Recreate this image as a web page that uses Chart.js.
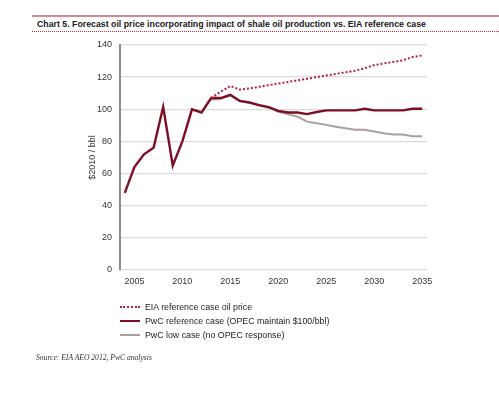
<!DOCTYPE html>
<html>
<head>
<meta charset="utf-8">
<script src="https://cdn.jsdelivr.net/npm/chart.js@4/dist/chart.umd.min.js"></script>
<style>
  html, body { margin: 0; padding: 0; background: #fff; }
  body { width: 499px; height: 395px; position: relative; overflow: hidden; font-family: "Liberation Sans", Arial, sans-serif; }
  #c { position: absolute; left: 0; top: 0; }
  #topline { position: absolute; left: 32px; width: 467px; top: 15px; height: 2px; background: #d98891; }
  #title { position: absolute; left: 37px; top: 19px; font-weight: bold; font-size: 8.6px; color: #1a1a1a; white-space: nowrap; }
  #dotline { position: absolute; left: 32px; right: 0; top: 31px; height: 0; border-top: 1.5px dotted #c0304a; }
  #legend { position: absolute; left: 120px; top: 300px; font-size: 8.8px; color: #222; }
  .row { height: 14px; line-height: 14px; white-space: nowrap; position: relative; }
  .sw { display: inline-block; width: 20px; vertical-align: middle; margin-right: 5px; position: relative; top: -1px; }
  #source { position: absolute; left: 36px; top: 353px; font-family: "Liberation Serif", "DejaVu Serif", serif; font-style: italic; font-size: 7.6px; color: #333; white-space: nowrap; }
</style>
</head>
<body>
<div id="topline"></div>
<div id="title">Chart 5. Forecast oil price incorporating impact of shale oil production vs. EIA reference case</div>
<div id="dotline"></div>
<canvas id="c" width="499" height="395"></canvas>
<div id="legend"></div>
<div id="source">Source: EIA AEO 2012, PwC analysis</div>
<script>
// ---- data ----
const years = [2004,2005,2006,2007,2008,2009,2010,2011,2012,2013,2014,2015,2016,2017,2018,2019,2020,2021,2022,2023,2024,2025,2026,2027,2028,2029,2030,2031,2032,2033,2034,2035];
const eiaRef = [null,null,null,null,null,null,null,null,null,107,111,114.5,112.2,113,114,115,116,117,118,119,120,121,122,123,124,125.5,127.5,128.5,129.5,130.5,132.5,133.5];
const pwcRef = [48,64,72,76,101.5,65,80,100,98,107,107,109,105.2,104.2,102.6,101.3,99,98,98,97,98.3,99.3,99.3,99.3,99.3,100.3,99.3,99.3,99.3,99.3,100.3,100.3];
const pwcLow = [null,null,null,null,null,null,null,null,null,106,106.5,108.5,105,104,102.5,101,98.5,97,95.4,92.3,91.3,90.3,89.2,88.2,87.2,87.2,86.2,85.1,84.3,84.3,83.3,83.3];
const xTicks = [2005,2010,2015,2020,2025,2030,2035];
const yTicks = [0,20,40,60,80,100,120,140];
const seriesNames = ["EIA reference case oil price", "PwC reference case (OPEC maintain $100/bbl)", "PwC low case (no OPEC response)"];
const yTitle = "$2010 / bbl";

// ---- fit title width ----
(function(){
  const t = document.getElementById('title');
  const w = t.getBoundingClientRect().width;
  t.style.fontSize = (8.6 * 389 / w) + 'px';
})();

const colors = ["#b3203d", "#7d0f25", "#ab9f9c"];
const toPts = arr => years.map((y,i)=>({x:y, y:arr[i]})).filter(p=>p.y!==null);
const tickFont = { family: 'Liberation Sans', size: 9 };

const ctx = document.getElementById('c').getContext('2d');
new Chart(ctx, {
  type: 'line',
  data: {
    datasets: [
      { label: seriesNames[2], data: toPts(pwcLow), borderColor: colors[2], borderWidth: 2, pointRadius: 0, tension: 0, order: 3 },
      { label: seriesNames[1], data: toPts(pwcRef), borderColor: colors[1], borderWidth: 2.4, pointRadius: 0, tension: 0, order: 2 },
      { label: seriesNames[0], data: toPts(eiaRef), borderColor: colors[0], borderWidth: 2, borderDash: [2, 2], pointRadius: 0, tension: 0, order: 1 }
    ]
  },
  options: {
    responsive: false,
    animation: false,
    layout: { padding: { left: 84, top: 45, right: 72, bottom: 100 } },
    plugins: { legend: { display: false }, tooltip: { enabled: false } },
    scales: {
      x: {
        type: 'linear', min: 2003.5, max: 2035.5,
        afterBuildTicks: s => { s.ticks = xTicks.map(v => ({ value: v })); },
        afterFit: s => { s.height = 25; },
        grid: { display: false, drawTicks: false },
        border: { display: false },
        ticks: { color: '#333', font: tickFont, padding: 6, maxRotation: 0, autoSkip: false, callback: v => String(v) }
      },
      y: {
        min: 0, max: 140,
        afterBuildTicks: s => { s.ticks = yTicks.map(v => ({ value: v })); },
        afterFit: s => { s.width = 36; },
        grid: { color: '#dddad8', lineWidth: 1.3, drawTicks: false },
        border: { display: true, color: '#8c8c8c', width: 2 },
        ticks: { color: '#333', font: tickFont, padding: 8 },
        title: { display: true, text: yTitle, color: '#333', font: tickFont, padding: { top: 3, bottom: 0 } }
      }
    }
  }
});

// ---- html legend ----
const lg = document.getElementById('legend');
const styles = [
  'border-top: 2px dotted ' + colors[0],
  'border-top: 2.4px solid ' + colors[1],
  'border-top: 2px solid ' + colors[2]
];
seriesNames.forEach((n, i) => {
  const r = document.createElement('div'); r.className = 'row';
  const s = document.createElement('span'); s.className = 'sw'; s.style.cssText = styles[i];
  r.appendChild(s); r.appendChild(document.createTextNode(n)); lg.appendChild(r);
});
</script>
</body>
</html>
